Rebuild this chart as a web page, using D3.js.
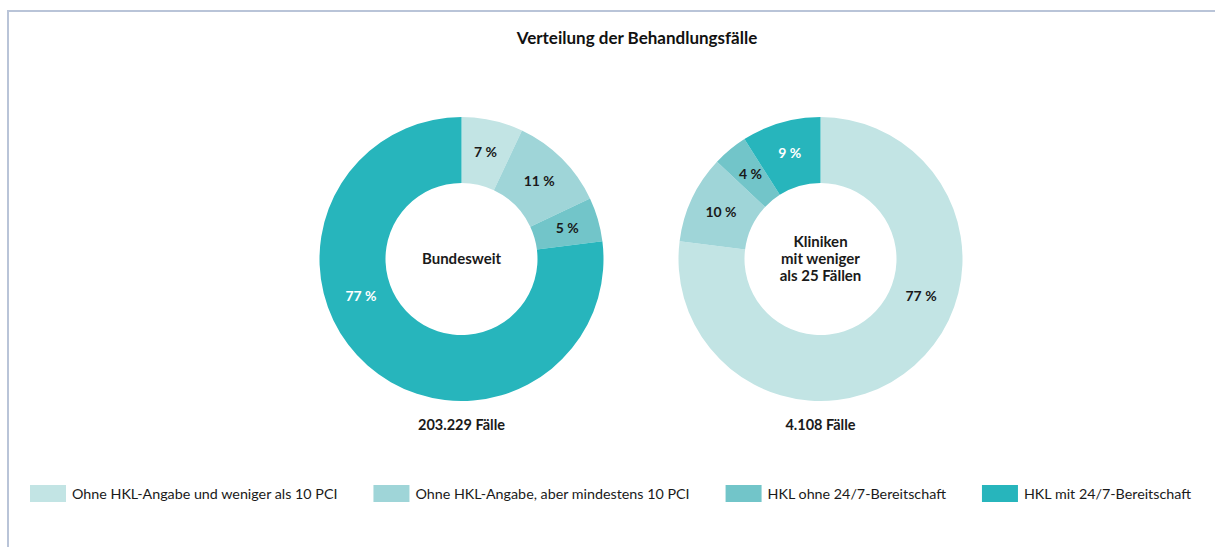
<!DOCTYPE html>
<html>
<head>
<meta charset="utf-8">
<script src="https://cdn.jsdelivr.net/npm/d3@7"></script>
<style>
  body { margin: 0; background: #fff; }
  svg { display: block; font-family: Lato, "Noto Sans", sans-serif; }
  .lbl { font-size: 14px; font-weight: 700; }
</style>
</head>
<body>
<div id="chart"></div>
<script>
// categories + colours (same order in both donuts, clockwise from 12 o'clock)
const categories = [
  'Ohne HKL-Angabe und weniger als 10 PCI',
  'Ohne HKL-Angabe, aber mindestens 10 PCI',
  'HKL ohne 24/7-Bereitschaft',
  'HKL mit 24/7-Bereitschaft'
];
const colors = ['#c2e4e4', '#9fd5d8', '#72c5c9', '#27b5bc'];

const bundesweit = [7, 11, 5, 77];
const kliniken = [77, 10, 4, 9];

const donutNames = [['Bundesweit'], ['Kliniken', 'mit weniger', 'als 25 Fällen']];
const donutTotals = ['203.229 Fälle', '4.108 Fälle'];

const w = 1215, h = 547;
const rOut = 142, rIn = 76;

const svg = d3.select('#chart').append('svg')
  .attr('width', w).attr('height', h);

// frame (top + left edge only)
svg.append('path')
  .attr('d', 'M8,547 V11 H1215')
  .attr('fill', 'none')
  .attr('stroke', '#b9c4d8')
  .attr('stroke-width', 2);

svg.append('text')
  .attr('x', 637).attr('y', 44)
  .attr('text-anchor', 'middle')
  .style('font-size', '17px').style('font-weight', 700)
  .attr('fill', '#111')
  .text('Verteilung der Behandlungsfälle');

const pie = d3.pie().sort(null).value(d => d);
const arc = d3.arc().innerRadius(rIn).outerRadius(rOut);
const labelArc = d3.arc().innerRadius(110).outerRadius(110);

const color = d3.scaleOrdinal().domain(d3.range(categories.length)).range(colors);

function labelPos(d) {
  // big slices: put the label ~110deg along the slice from 12 o'clock
  if (d.endAngle - d.startAngle > Math.PI) {
    const off = 110 * Math.PI / 180;
    const a = d.startAngle < 0.01 ? d.startAngle + off : d.endAngle - off;
    return [107 * Math.sin(a), -107 * Math.cos(a)];
  }
  return labelArc.centroid(d);
}

const centers = [461.5, 820.5];
[bundesweit, kliniken].forEach((vals, k) => {
  const g = svg.append('g').attr('transform', `translate(${centers[k]},259)`);
  const arcs = pie(vals);

  g.selectAll('path.slice')
    .data(arcs)
    .enter()
    .append('path')
    .attr('class', 'slice')
    .attr('d', arc)
    .attr('fill', (d, i) => color(i));

  g.selectAll('text.lbl')
    .data(arcs)
    .enter()
    .append('text')
    .attr('class', 'lbl')
    .attr('transform', d => 'translate(' + labelPos(d) + ')')
    .attr('dy', '0.35em')
    .attr('text-anchor', 'middle')
    .attr('fill', (d, i) => i === 3 ? '#fff' : '#1a1a1a')
    .text(d => d.data + ' %');

  const lines = donutNames[k];
  g.append('text')
    .attr('text-anchor', 'middle')
    .attr('fill', '#1a1a1a')
    .style('font-size', '15px').style('font-weight', 700)
    .selectAll('tspan')
    .data(lines)
    .enter()
    .append('tspan')
    .attr('x', 0)
    .attr('y', (d, i) => (i - (lines.length - 1) / 2) * 17)
    .attr('dy', '0.35em')
    .text(d => d);

  g.append('text')
    .attr('y', 166)
    .attr('dy', '0.35em')
    .attr('text-anchor', 'middle')
    .attr('fill', '#1a1a1a')
    .style('font-size', '14.5px').style('font-weight', 700)
    .text(donutTotals[k]);
});

// legend, laid out left to right from measured text widths
const legend = svg.append('g').attr('transform', 'translate(30,494)');
let lx = 0;
categories.forEach((c, i) => {
  const item = legend.append('g').attr('transform', `translate(${lx},0)`);
  item.append('rect')
    .attr('x', 0).attr('y', -9)
    .attr('width', 36).attr('height', 17)
    .attr('fill', color(i));
  const t = item.append('text')
    .attr('x', 42).attr('dy', '0.35em')
    .attr('fill', '#1a1a1a')
    .style('font-size', '14.3px')
    .text(c);
  lx += 42 + t.node().getComputedTextLength() + 36;
});
</script>
</body>
</html>
